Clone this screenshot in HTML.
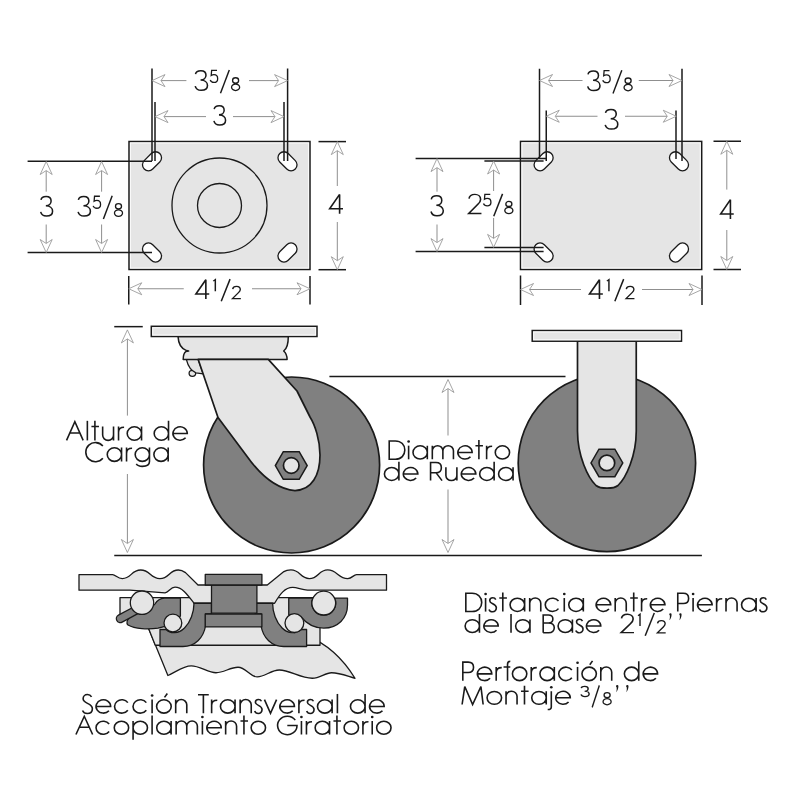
<!DOCTYPE html><html><head><meta charset="utf-8"><style>html,body{margin:0;padding:0;background:#fff;}svg{display:block;}text{font-family:"Liberation Sans",sans-serif;fill:#222;}</style></head><body>
<div style="will-change:transform;width:800px;height:800px"><svg width="800" height="800" viewBox="0 0 800 800">
<rect x="129" y="141.5" width="181" height="128" fill="#e5e5e5" stroke="#1a1a1a" stroke-width="1.5"/>
<rect x="130.45" y="142.95" width="178.1" height="125.1" fill="none" stroke="#fafafa" stroke-width="1"/>
<circle cx="219.5" cy="205.5" r="47.5" fill="none" stroke="#1a1a1a" stroke-width="1.3"/>
<circle cx="219.5" cy="205.5" r="22" fill="none" stroke="#1a1a1a" stroke-width="1.3"/>
<rect x="-11" y="-6" width="22" height="12" rx="6" transform="translate(152,161.3) rotate(-45)" fill="#fff" stroke="#1a1a1a" stroke-width="1.3"/>
<rect x="-11" y="-6" width="22" height="12" rx="6" transform="translate(287.5,161.3) rotate(45)" fill="#fff" stroke="#1a1a1a" stroke-width="1.3"/>
<rect x="-11" y="-6" width="22" height="12" rx="6" transform="translate(152,252.5) rotate(45)" fill="#fff" stroke="#1a1a1a" stroke-width="1.3"/>
<rect x="-11" y="-6" width="22" height="12" rx="6" transform="translate(287.5,252.5) rotate(-45)" fill="#fff" stroke="#1a1a1a" stroke-width="1.3"/>
<line x1="152" y1="68.5" x2="152" y2="161" stroke="#1a1a1a" stroke-width="1.5"/>
<line x1="155" y1="102" x2="155" y2="161" stroke="#1a1a1a" stroke-width="1.5"/>
<line x1="287.6" y1="68.5" x2="287.6" y2="161" stroke="#1a1a1a" stroke-width="1.5"/>
<line x1="284" y1="102" x2="284" y2="161" stroke="#1a1a1a" stroke-width="1.5"/>
<line x1="27.6" y1="161.2" x2="152" y2="161.2" stroke="#1a1a1a" stroke-width="1.5"/>
<line x1="27.6" y1="252.5" x2="152" y2="252.5" stroke="#1a1a1a" stroke-width="1.5"/>
<line x1="161" y1="80.6" x2="186.4" y2="80.6" stroke="#8f8f8f" stroke-width="1"/>
<line x1="249" y1="80.6" x2="278.6" y2="80.6" stroke="#8f8f8f" stroke-width="1"/>
<path d="M0,0 L-6,13 L0,9 L6,13 Z" transform="translate(152,80.6) rotate(270)" fill="#fff" stroke="#8f8f8f" stroke-width="0.8" stroke-linejoin="miter"/>
<path d="M0,0 L-6,13 L0,9 L6,13 Z" transform="translate(287.6,80.6) rotate(90)" fill="#fff" stroke="#8f8f8f" stroke-width="0.8" stroke-linejoin="miter"/>
<line x1="164" y1="116.6" x2="206" y2="116.6" stroke="#8f8f8f" stroke-width="1"/>
<line x1="233" y1="116.6" x2="275" y2="116.6" stroke="#8f8f8f" stroke-width="1"/>
<path d="M0,0 L-6,13 L0,9 L6,13 Z" transform="translate(155,116.6) rotate(270)" fill="#fff" stroke="#8f8f8f" stroke-width="0.8" stroke-linejoin="miter"/>
<path d="M0,0 L-6,13 L0,9 L6,13 Z" transform="translate(284,116.6) rotate(90)" fill="#fff" stroke="#8f8f8f" stroke-width="0.8" stroke-linejoin="miter"/>
<line x1="46.2" y1="170.5" x2="46.2" y2="191.7" stroke="#8f8f8f" stroke-width="1"/>
<line x1="46.2" y1="224.5" x2="46.2" y2="243.5" stroke="#8f8f8f" stroke-width="1"/>
<path d="M0,0 L-6,13 L0,9 L6,13 Z" transform="translate(46.2,161.5) rotate(0)" fill="#fff" stroke="#8f8f8f" stroke-width="0.8" stroke-linejoin="miter"/>
<path d="M0,0 L-6,13 L0,9 L6,13 Z" transform="translate(46.2,252.5) rotate(180)" fill="#fff" stroke="#8f8f8f" stroke-width="0.8" stroke-linejoin="miter"/>
<line x1="101.6" y1="170.5" x2="101.6" y2="191.7" stroke="#8f8f8f" stroke-width="1"/>
<line x1="101.6" y1="224.5" x2="101.6" y2="243.5" stroke="#8f8f8f" stroke-width="1"/>
<path d="M0,0 L-6,13 L0,9 L6,13 Z" transform="translate(101.6,161.5) rotate(0)" fill="#fff" stroke="#8f8f8f" stroke-width="0.8" stroke-linejoin="miter"/>
<path d="M0,0 L-6,13 L0,9 L6,13 Z" transform="translate(101.6,252.5) rotate(180)" fill="#fff" stroke="#8f8f8f" stroke-width="0.8" stroke-linejoin="miter"/>
<line x1="318.5" y1="141.6" x2="346" y2="141.6" stroke="#1a1a1a" stroke-width="1.5"/>
<line x1="318.5" y1="269.7" x2="346" y2="269.7" stroke="#1a1a1a" stroke-width="1.5"/>
<line x1="337.3" y1="150.6" x2="337.3" y2="186" stroke="#8f8f8f" stroke-width="1"/>
<line x1="337.3" y1="222" x2="337.3" y2="260.7" stroke="#8f8f8f" stroke-width="1"/>
<path d="M0,0 L-6,13 L0,9 L6,13 Z" transform="translate(337.3,141.6) rotate(0)" fill="#fff" stroke="#8f8f8f" stroke-width="0.8" stroke-linejoin="miter"/>
<path d="M0,0 L-6,13 L0,9 L6,13 Z" transform="translate(337.3,269.7) rotate(180)" fill="#fff" stroke="#8f8f8f" stroke-width="0.8" stroke-linejoin="miter"/>
<line x1="128.75" y1="276" x2="128.75" y2="304.5" stroke="#1a1a1a" stroke-width="1.5"/>
<line x1="310" y1="276" x2="310" y2="304.5" stroke="#1a1a1a" stroke-width="1.5"/>
<line x1="137.75" y1="288.75" x2="183.75" y2="288.75" stroke="#8f8f8f" stroke-width="1"/>
<line x1="252" y1="288.75" x2="301" y2="288.75" stroke="#8f8f8f" stroke-width="1"/>
<path d="M0,0 L-6,13 L0,9 L6,13 Z" transform="translate(128.75,288.75) rotate(270)" fill="#fff" stroke="#8f8f8f" stroke-width="0.8" stroke-linejoin="miter"/>
<path d="M0,0 L-6,13 L0,9 L6,13 Z" transform="translate(310,288.75) rotate(90)" fill="#fff" stroke="#8f8f8f" stroke-width="0.8" stroke-linejoin="miter"/>
<rect x="520.5" y="141.4" width="181.2" height="128.1" fill="#e5e5e5" stroke="#1a1a1a" stroke-width="1.5"/>
<rect x="521.95" y="142.85" width="178.29999999999998" height="125.19999999999999" fill="none" stroke="#fafafa" stroke-width="1"/>
<rect x="-11" y="-6" width="22" height="12" rx="6" transform="translate(543.6,161.3) rotate(-45)" fill="#fff" stroke="#1a1a1a" stroke-width="1.3"/>
<rect x="-11" y="-6" width="22" height="12" rx="6" transform="translate(679,161.3) rotate(45)" fill="#fff" stroke="#1a1a1a" stroke-width="1.3"/>
<rect x="-11" y="-6" width="22" height="12" rx="6" transform="translate(543.6,252.5) rotate(45)" fill="#fff" stroke="#1a1a1a" stroke-width="1.3"/>
<rect x="-11" y="-6" width="22" height="12" rx="6" transform="translate(679,252.5) rotate(-45)" fill="#fff" stroke="#1a1a1a" stroke-width="1.3"/>
<line x1="539.5" y1="68.75" x2="539.5" y2="159" stroke="#1a1a1a" stroke-width="1.5"/>
<line x1="546.25" y1="110.5" x2="546.25" y2="161" stroke="#1a1a1a" stroke-width="1.5"/>
<line x1="682" y1="68.75" x2="682" y2="161" stroke="#1a1a1a" stroke-width="1.5"/>
<line x1="676" y1="110.5" x2="676" y2="159" stroke="#1a1a1a" stroke-width="1.5"/>
<line x1="415.6" y1="158.6" x2="546" y2="158.6" stroke="#1a1a1a" stroke-width="1.5"/>
<line x1="415.6" y1="251.6" x2="543.6" y2="251.6" stroke="#1a1a1a" stroke-width="1.5"/>
<line x1="484.4" y1="161" x2="543.6" y2="161" stroke="#1a1a1a" stroke-width="1.5"/>
<line x1="484.4" y1="247.4" x2="543.6" y2="247.4" stroke="#1a1a1a" stroke-width="1.5"/>
<line x1="548.5" y1="80.5" x2="582.5" y2="80.5" stroke="#8f8f8f" stroke-width="1"/>
<line x1="638.75" y1="80.5" x2="673" y2="80.5" stroke="#8f8f8f" stroke-width="1"/>
<path d="M0,0 L-6,13 L0,9 L6,13 Z" transform="translate(539.5,80.5) rotate(270)" fill="#fff" stroke="#8f8f8f" stroke-width="0.8" stroke-linejoin="miter"/>
<path d="M0,0 L-6,13 L0,9 L6,13 Z" transform="translate(682,80.5) rotate(90)" fill="#fff" stroke="#8f8f8f" stroke-width="0.8" stroke-linejoin="miter"/>
<line x1="555.25" y1="116.25" x2="597.5" y2="116.25" stroke="#8f8f8f" stroke-width="1"/>
<line x1="625" y1="116.25" x2="667.25" y2="116.25" stroke="#8f8f8f" stroke-width="1"/>
<path d="M0,0 L-6,13 L0,9 L6,13 Z" transform="translate(546.25,116.25) rotate(270)" fill="#fff" stroke="#8f8f8f" stroke-width="0.8" stroke-linejoin="miter"/>
<path d="M0,0 L-6,13 L0,9 L6,13 Z" transform="translate(676.25,116.25) rotate(90)" fill="#fff" stroke="#8f8f8f" stroke-width="0.8" stroke-linejoin="miter"/>
<line x1="437" y1="167.6" x2="437" y2="191.7" stroke="#8f8f8f" stroke-width="1"/>
<line x1="437" y1="224.5" x2="437" y2="242.6" stroke="#8f8f8f" stroke-width="1"/>
<path d="M0,0 L-6,13 L0,9 L6,13 Z" transform="translate(437,158.6) rotate(0)" fill="#fff" stroke="#8f8f8f" stroke-width="0.8" stroke-linejoin="miter"/>
<path d="M0,0 L-6,13 L0,9 L6,13 Z" transform="translate(437,251.6) rotate(180)" fill="#fff" stroke="#8f8f8f" stroke-width="0.8" stroke-linejoin="miter"/>
<line x1="493.6" y1="170" x2="493.6" y2="191" stroke="#8f8f8f" stroke-width="1"/>
<line x1="493.6" y1="218" x2="493.6" y2="238.4" stroke="#8f8f8f" stroke-width="1"/>
<path d="M0,0 L-6,13 L0,9 L6,13 Z" transform="translate(493.6,161) rotate(0)" fill="#fff" stroke="#8f8f8f" stroke-width="0.8" stroke-linejoin="miter"/>
<path d="M0,0 L-6,13 L0,9 L6,13 Z" transform="translate(493.6,247.4) rotate(180)" fill="#fff" stroke="#8f8f8f" stroke-width="0.8" stroke-linejoin="miter"/>
<line x1="713.5" y1="141.25" x2="741" y2="141.25" stroke="#1a1a1a" stroke-width="1.5"/>
<line x1="713.5" y1="269.5" x2="741" y2="269.5" stroke="#1a1a1a" stroke-width="1.5"/>
<line x1="726.8" y1="150.25" x2="726.8" y2="189.6" stroke="#8f8f8f" stroke-width="1"/>
<line x1="726.8" y1="230" x2="726.8" y2="260.5" stroke="#8f8f8f" stroke-width="1"/>
<path d="M0,0 L-6,13 L0,9 L6,13 Z" transform="translate(726.8,141.25) rotate(0)" fill="#fff" stroke="#8f8f8f" stroke-width="0.8" stroke-linejoin="miter"/>
<path d="M0,0 L-6,13 L0,9 L6,13 Z" transform="translate(726.8,269.5) rotate(180)" fill="#fff" stroke="#8f8f8f" stroke-width="0.8" stroke-linejoin="miter"/>
<line x1="520.5" y1="275.5" x2="520.5" y2="305" stroke="#1a1a1a" stroke-width="1.5"/>
<line x1="702" y1="275.5" x2="702" y2="305" stroke="#1a1a1a" stroke-width="1.5"/>
<line x1="529.5" y1="289.5" x2="581" y2="289.5" stroke="#8f8f8f" stroke-width="1"/>
<line x1="642" y1="289.5" x2="693" y2="289.5" stroke="#8f8f8f" stroke-width="1"/>
<path d="M0,0 L-6,13 L0,9 L6,13 Z" transform="translate(520.5,289.5) rotate(270)" fill="#fff" stroke="#8f8f8f" stroke-width="0.8" stroke-linejoin="miter"/>
<path d="M0,0 L-6,13 L0,9 L6,13 Z" transform="translate(702,289.5) rotate(90)" fill="#fff" stroke="#8f8f8f" stroke-width="0.8" stroke-linejoin="miter"/>
<path d="M1.0,-16.9 C1.4,-19.2 3.6,-20.3 6.3,-20.3 C9.6,-20.3 11.4,-18.2 11.4,-15.7 C11.4,-13 9.1,-11 6.0,-11 C9.9,-11 12.9,-8.8 12.9,-5.6 C12.9,-2.2 10.2,-0.7 6.6,-0.7 C3.6,-0.7 1.3,-2.4 0.7,-4.9" transform="translate(194.50,91.00) scale(1.0074,1.0000)" fill="none" stroke="#1a1a1a" stroke-width="1.544" stroke-miterlimit="3"/>
<path d="M11.8,-20.3 H3.0 L2.3,-12.0 C3.8,-13 5.4,-13.4 6.8,-13.4 C10.5,-13.4 12.9,-10.6 12.9,-6.9 C12.9,-3.1 10.3,-0.7 6.7,-0.7 C3.9,-0.7 1.6,-2.2 0.7,-4.6" transform="translate(209.80,82.90) scale(0.6103,0.6143)" fill="none" stroke="#1a1a1a" stroke-width="2.123" stroke-miterlimit="3"/>
<path d="M0.7,0 L9.6,-21" transform="translate(219.80,93.20) scale(0.9903,1.1048)" fill="none" stroke="#1a1a1a" stroke-width="1.480" stroke-miterlimit="3"/>
<path d="M0.700,-5.700 A6.150,5.000 0 1 0 13.000,-5.700 A6.150,5.000 0 1 0 0.700,-5.700 M2.250,-16.200 A4.600,4.100 0 1 0 11.450,-16.200 A4.600,4.100 0 1 0 2.250,-16.200" transform="translate(231.10,91.00) scale(0.6569,0.6524)" fill="none" stroke="#1a1a1a" stroke-width="1.986" stroke-miterlimit="3"/>
<path d="M1.0,-16.9 C1.4,-19.2 3.6,-20.3 6.3,-20.3 C9.6,-20.3 11.4,-18.2 11.4,-15.7 C11.4,-13 9.1,-11 6.0,-11 C9.9,-11 12.9,-8.8 12.9,-5.6 C12.9,-2.2 10.2,-0.7 6.6,-0.7 C3.6,-0.7 1.3,-2.4 0.7,-4.9" transform="translate(213.25,125.75) scale(0.9559,0.9881)" fill="none" stroke="#1a1a1a" stroke-width="1.595" stroke-miterlimit="3"/>
<path d="M1.0,-16.9 C1.4,-19.2 3.6,-20.3 6.3,-20.3 C9.6,-20.3 11.4,-18.2 11.4,-15.7 C11.4,-13 9.1,-11 6.0,-11 C9.9,-11 12.9,-8.8 12.9,-5.6 C12.9,-2.2 10.2,-0.7 6.6,-0.7 C3.6,-0.7 1.3,-2.4 0.7,-4.9" transform="translate(40.00,216.75) scale(0.9743,1.0000)" fill="none" stroke="#1a1a1a" stroke-width="1.570" stroke-miterlimit="3"/>
<path d="M1.0,-16.9 C1.4,-19.2 3.6,-20.3 6.3,-20.3 C9.6,-20.3 11.4,-18.2 11.4,-15.7 C11.4,-13 9.1,-11 6.0,-11 C9.9,-11 12.9,-8.8 12.9,-5.6 C12.9,-2.2 10.2,-0.7 6.6,-0.7 C3.6,-0.7 1.3,-2.4 0.7,-4.9" transform="translate(77.40,216.80) scale(1.0074,1.0000)" fill="none" stroke="#1a1a1a" stroke-width="1.544" stroke-miterlimit="3"/>
<path d="M11.8,-20.3 H3.0 L2.3,-12.0 C3.8,-13 5.4,-13.4 6.8,-13.4 C10.5,-13.4 12.9,-10.6 12.9,-6.9 C12.9,-3.1 10.3,-0.7 6.7,-0.7 C3.9,-0.7 1.6,-2.2 0.7,-4.6" transform="translate(92.70,208.70) scale(0.6103,0.6143)" fill="none" stroke="#1a1a1a" stroke-width="2.123" stroke-miterlimit="3"/>
<path d="M0.7,0 L9.6,-21" transform="translate(102.70,219.00) scale(0.9903,1.1048)" fill="none" stroke="#1a1a1a" stroke-width="1.480" stroke-miterlimit="3"/>
<path d="M0.700,-5.700 A6.150,5.000 0 1 0 13.000,-5.700 A6.150,5.000 0 1 0 0.700,-5.700 M2.250,-16.200 A4.600,4.100 0 1 0 11.450,-16.200 A4.600,4.100 0 1 0 2.250,-16.200" transform="translate(114.00,216.80) scale(0.6569,0.6524)" fill="none" stroke="#1a1a1a" stroke-width="1.986" stroke-miterlimit="3"/>
<path d="M13.6,-5.2 H0.6 L10.3,-20.3 V0" transform="translate(329.00,213.75) scale(1.0294,0.9524)" fill="none" stroke="#1a1a1a" stroke-width="1.564" stroke-miterlimit="3"/>
<path d="M13.6,-5.2 H0.6 L10.3,-20.3 V0" transform="translate(195.25,299.00) scale(1.0294,0.9476)" fill="none" stroke="#1a1a1a" stroke-width="1.568" stroke-miterlimit="3"/>
<path d="M0.6,-17.6 L3.3,-20.3 V0" transform="translate(212.85,291.32) scale(0.7500,0.5821)" fill="none" stroke="#1a1a1a" stroke-width="1.952" stroke-miterlimit="3"/>
<path d="M0.7,0 L9.6,-21" transform="translate(220.55,301.20) scale(0.9903,1.0524)" fill="none" stroke="#1a1a1a" stroke-width="1.518" stroke-miterlimit="3"/>
<path d="M1.2,-16.0 C1.6,-18.9 4.0,-20.5 6.8,-20.5 C9.9,-20.5 12.2,-18.3 12.2,-15.3 C12.2,-13.2 11.0,-11.7 9.6,-10.2 L0.9,-0.7 H13.0" transform="translate(231.85,299.00) scale(0.6923,0.6182)" fill="none" stroke="#1a1a1a" stroke-width="1.984" stroke-miterlimit="3"/>
<path d="M1.0,-16.9 C1.4,-19.2 3.6,-20.3 6.3,-20.3 C9.6,-20.3 11.4,-18.2 11.4,-15.7 C11.4,-13 9.1,-11 6.0,-11 C9.9,-11 12.9,-8.8 12.9,-5.6 C12.9,-2.2 10.2,-0.7 6.6,-0.7 C3.6,-0.7 1.3,-2.4 0.7,-4.9" transform="translate(587.00,91.25) scale(1.0074,1.0000)" fill="none" stroke="#1a1a1a" stroke-width="1.544" stroke-miterlimit="3"/>
<path d="M11.8,-20.3 H3.0 L2.3,-12.0 C3.8,-13 5.4,-13.4 6.8,-13.4 C10.5,-13.4 12.9,-10.6 12.9,-6.9 C12.9,-3.1 10.3,-0.7 6.7,-0.7 C3.9,-0.7 1.6,-2.2 0.7,-4.6" transform="translate(602.30,83.15) scale(0.6103,0.6143)" fill="none" stroke="#1a1a1a" stroke-width="2.123" stroke-miterlimit="3"/>
<path d="M0.7,0 L9.6,-21" transform="translate(612.30,93.45) scale(0.9903,1.1048)" fill="none" stroke="#1a1a1a" stroke-width="1.480" stroke-miterlimit="3"/>
<path d="M0.700,-5.700 A6.150,5.000 0 1 0 13.000,-5.700 A6.150,5.000 0 1 0 0.700,-5.700 M2.250,-16.200 A4.600,4.100 0 1 0 11.450,-16.200 A4.600,4.100 0 1 0 2.250,-16.200" transform="translate(623.60,91.25) scale(0.6569,0.6524)" fill="none" stroke="#1a1a1a" stroke-width="1.986" stroke-miterlimit="3"/>
<path d="M1.0,-16.9 C1.4,-19.2 3.6,-20.3 6.3,-20.3 C9.6,-20.3 11.4,-18.2 11.4,-15.7 C11.4,-13 9.1,-11 6.0,-11 C9.9,-11 12.9,-8.8 12.9,-5.6 C12.9,-2.2 10.2,-0.7 6.6,-0.7 C3.6,-0.7 1.3,-2.4 0.7,-4.9" transform="translate(604.50,129.75) scale(1.0294,1.0000)" fill="none" stroke="#1a1a1a" stroke-width="1.528" stroke-miterlimit="3"/>
<path d="M1.0,-16.9 C1.4,-19.2 3.6,-20.3 6.3,-20.3 C9.6,-20.3 11.4,-18.2 11.4,-15.7 C11.4,-13 9.1,-11 6.0,-11 C9.9,-11 12.9,-8.8 12.9,-5.6 C12.9,-2.2 10.2,-0.7 6.6,-0.7 C3.6,-0.7 1.3,-2.4 0.7,-4.9" transform="translate(430.30,216.50) scale(1.0074,1.0190)" fill="none" stroke="#1a1a1a" stroke-width="1.530" stroke-miterlimit="3"/>
<path d="M1.2,-16.0 C1.6,-18.9 4.0,-20.5 6.8,-20.5 C9.9,-20.5 12.2,-18.3 12.2,-15.3 C12.2,-13.2 11.0,-11.7 9.6,-10.2 L0.9,-0.7 H13.0" transform="translate(467.75,214.10) scale(1.0538,0.9619)" fill="none" stroke="#1a1a1a" stroke-width="1.538" stroke-miterlimit="3"/>
<path d="M11.8,-20.3 H3.0 L2.3,-12.0 C3.8,-13 5.4,-13.4 6.8,-13.4 C10.5,-13.4 12.9,-10.6 12.9,-6.9 C12.9,-3.1 10.3,-0.7 6.7,-0.7 C3.9,-0.7 1.6,-2.2 0.7,-4.6" transform="translate(483.05,206.31) scale(0.6103,0.5909)" fill="none" stroke="#1a1a1a" stroke-width="2.165" stroke-miterlimit="3"/>
<path d="M0.7,0 L9.6,-21" transform="translate(493.05,216.30) scale(0.9903,1.0667)" fill="none" stroke="#1a1a1a" stroke-width="1.507" stroke-miterlimit="3"/>
<path d="M0.700,-5.700 A6.150,5.000 0 1 0 13.000,-5.700 A6.150,5.000 0 1 0 0.700,-5.700 M2.250,-16.200 A4.600,4.100 0 1 0 11.450,-16.200 A4.600,4.100 0 1 0 2.250,-16.200" transform="translate(504.35,214.10) scale(0.6569,0.6275)" fill="none" stroke="#1a1a1a" stroke-width="2.024" stroke-miterlimit="3"/>
<path d="M13.6,-5.2 H0.6 L10.3,-20.3 V0" transform="translate(720.00,219.00) scale(1.0110,0.9524)" fill="none" stroke="#1a1a1a" stroke-width="1.579" stroke-miterlimit="3"/>
<path d="M13.6,-5.2 H0.6 L10.3,-20.3 V0" transform="translate(588.85,299.00) scale(1.0294,0.9476)" fill="none" stroke="#1a1a1a" stroke-width="1.568" stroke-miterlimit="3"/>
<path d="M0.6,-17.6 L3.3,-20.3 V0" transform="translate(606.45,291.32) scale(0.7500,0.5821)" fill="none" stroke="#1a1a1a" stroke-width="1.952" stroke-miterlimit="3"/>
<path d="M0.7,0 L9.6,-21" transform="translate(614.15,301.20) scale(0.9903,1.0524)" fill="none" stroke="#1a1a1a" stroke-width="1.518" stroke-miterlimit="3"/>
<path d="M1.2,-16.0 C1.6,-18.9 4.0,-20.5 6.8,-20.5 C9.9,-20.5 12.2,-18.3 12.2,-15.3 C12.2,-13.2 11.0,-11.7 9.6,-10.2 L0.9,-0.7 H13.0" transform="translate(625.45,299.00) scale(0.6923,0.6182)" fill="none" stroke="#1a1a1a" stroke-width="1.984" stroke-miterlimit="3"/>
<line x1="114.25" y1="326.65" x2="142.75" y2="326.65" stroke="#1a1a1a" stroke-width="1.5"/>
<line x1="127.4" y1="338.9" x2="127.4" y2="415.6" stroke="#8f8f8f" stroke-width="1"/>
<line x1="127.4" y1="474" x2="127.4" y2="543.5" stroke="#8f8f8f" stroke-width="1"/>
<path d="M0,0 L-6,13 L0,9 L6,13 Z" transform="translate(127.4,329.9) rotate(0)" fill="#fff" stroke="#8f8f8f" stroke-width="0.8" stroke-linejoin="miter"/>
<path d="M0,0 L-6,13 L0,9 L6,13 Z" transform="translate(127.4,552.5) rotate(180)" fill="#fff" stroke="#8f8f8f" stroke-width="0.8" stroke-linejoin="miter"/>
<line x1="114.25" y1="555.4" x2="701.9" y2="555.4" stroke="#1a1a1a" stroke-width="1.5"/>
<line x1="329.4" y1="376.4" x2="565.5" y2="376.4" stroke="#1a1a1a" stroke-width="1.5"/>
<line x1="448" y1="388.5" x2="448" y2="435.5" stroke="#8f8f8f" stroke-width="1"/>
<line x1="448" y1="489.5" x2="448" y2="543.5" stroke="#8f8f8f" stroke-width="1"/>
<path d="M0,0 L-6,13 L0,9 L6,13 Z" transform="translate(448,379.5) rotate(0)" fill="#fff" stroke="#8f8f8f" stroke-width="0.8" stroke-linejoin="miter"/>
<path d="M0,0 L-6,13 L0,9 L6,13 Z" transform="translate(448,552.5) rotate(180)" fill="#fff" stroke="#8f8f8f" stroke-width="0.8" stroke-linejoin="miter"/>
<circle cx="291.6" cy="465" r="88" fill="#808080" stroke="#1a1a1a" stroke-width="1.7"/>
<path d="M178,336.4 C178.3,342 180.5,348.5 186.5,350.6 L188.6,351.1 L185.8,351.6 C183.8,353 183.2,356 183.2,359.4 L287.1,359.4 C287.1,356 287,354 283.7,351 C286.5,349 288.3,345 288.3,336.4 Z" fill="#e5e5e5" stroke="#1a1a1a" stroke-width="1.5" stroke-linejoin="round"/>
<ellipse cx="192.4" cy="373.3" rx="3.3" ry="3.0" fill="#e5e5e5" stroke="#1a1a1a" stroke-width="1.3"/>
<path d="M186.4,359.6 C188,366 191.5,371 196,372.8 L203.2,373.8 L198.2,359.6 Z" fill="#e5e5e5" stroke="#1a1a1a" stroke-width="1.3" stroke-linejoin="round"/>
<path d="M198.2,359.4 L218,417.5 L246,455 C258,472 275,489 295,490.6 C312,490 320,475 320,455 C320,440 315,425 310,417 L297,391 L268.3,359.4 Z" fill="#e5e5e5" stroke="#1a1a1a" stroke-width="1.7" stroke-linejoin="round"/>
<rect x="151.3" y="326.3" width="165.7" height="10.2" fill="#e5e5e5" stroke="#1a1a1a" stroke-width="1.5"/>
<rect x="152.75" y="327.75" width="162.79999999999998" height="7.299999999999999" fill="none" stroke="#fafafa" stroke-width="1"/>
<polygon points="307.15,465.50 299.20,479.27 283.30,479.27 275.35,465.50 283.30,451.73 299.20,451.73" fill="#808080" stroke="#1a1a1a" stroke-width="1.5"/>
<circle cx="291.25" cy="465.5" r="7.8" fill="#e5e5e5" stroke="#1a1a1a" stroke-width="1.7"/>
<circle cx="606.9" cy="462.9" r="88.7" fill="#808080" stroke="#1a1a1a" stroke-width="1.7"/>
<path d="M577.5,341.2 V431 C577.5,456 588,478 596,485.5 C598.5,487.5 602,488.2 607,488.2 C612,488.2 615.5,487.5 618,485.5 C626,478 636.25,456 636.25,431 V341.2 Z" fill="#e5e5e5" stroke="#1a1a1a" stroke-width="1.7" stroke-linejoin="round"/>
<rect x="532.2" y="330.5" width="149.3" height="10.7" fill="#e5e5e5" stroke="#1a1a1a" stroke-width="1.5"/>
<rect x="533.6500000000001" y="331.95" width="146.4" height="7.799999999999999" fill="none" stroke="#fafafa" stroke-width="1"/>
<polygon points="622.80,462.90 614.85,476.67 598.95,476.67 591.00,462.90 598.95,449.13 614.85,449.13" fill="#808080" stroke="#1a1a1a" stroke-width="1.5"/>
<circle cx="606.9" cy="462.9" r="7.8" fill="#e5e5e5" stroke="#1a1a1a" stroke-width="1.7"/>
<g transform="translate(65.65,440.40) scale(0.9899,0.9689)" fill="none" stroke="#1a1a1a" stroke-width="1.6" stroke-miterlimit="3"><path transform="translate(0.00,0)" d="M0.9,0 L9.3,-19.3 L17.7,0 M4.5,-7.7 H14.1"/><path transform="translate(19.20,0)" d="M2.725,0 V-20.200"/><path transform="translate(24.65,0)" d="M1.4,-14.300 H9.0 M4.9,-20.200 V0"/><path transform="translate(34.85,0)" d="M2.525,-14.300 V-5.500 A5.5,5.5 0 0 0 13.525,-5.500 M13.525,-14.300 V0"/><path transform="translate(50.90,0)" d="M2.525,0 V-14.300 M2.525,-8.3 C2.525,-12 4.925,-13.6 8.125,-13.6"/><path transform="translate(60.25,0)" d="M1.925,-7.150 A7.250,6.950 0 1 0 16.425,-7.150 A7.250,6.950 0 1 0 1.925,-7.150 M16.425,-14.300 V0"/><path transform="translate(87.50,0)" d="M1.925,-7.150 A7.250,6.950 0 1 0 16.425,-7.150 A7.250,6.950 0 1 0 1.925,-7.150 M16.425,-20.200 V0"/><path transform="translate(106.45,0)" d="M1.925,-7.150 H16.425 A7.250,6.950 0 1 0 14.729,-2.683"/></g>
<g transform="translate(83.92,461.60) scale(0.9869,0.9793)" fill="none" stroke="#1a1a1a" stroke-width="1.6" stroke-miterlimit="3"><path transform="translate(0.00,0)" d="M19.188,-15.933 A9.775,9.775 0 1 0 19.188,-3.367"/><path transform="translate(21.71,0)" d="M1.925,-7.150 A7.250,6.950 0 1 0 16.425,-7.150 A7.250,6.950 0 1 0 1.925,-7.150 M16.425,-14.300 V0"/><path transform="translate(40.66,0)" d="M2.525,0 V-14.300 M2.525,-8.3 C2.525,-12 4.925,-13.6 8.125,-13.6"/><path transform="translate(50.01,0)" d="M1.925,-7.150 A7.250,6.950 0 1 0 16.425,-7.150 A7.250,6.950 0 1 0 1.925,-7.150 M16.425,-14.300 V0 C16.425,3.4 13.825,4.9 9.175,4.9 C6.175,4.9 3.975,3.9 3.075,2.4"/><path transform="translate(68.96,0)" d="M1.925,-7.150 A7.250,6.950 0 1 0 16.425,-7.150 A7.250,6.950 0 1 0 1.925,-7.150 M16.425,-14.300 V0"/></g>
<g transform="translate(386.72,459.30) scale(0.9874,0.9534)" fill="none" stroke="#1a1a1a" stroke-width="1.6" stroke-miterlimit="3"><path transform="translate(0.00,0)" d="M2.525,-19.3 V0 H8.725 C14.725,0 18.325,-4.3 18.325,-9.650 C18.325,-15 14.725,-19.3 8.725,-19.3 Z"/><path transform="translate(19.65,0)" d="M2.525,0 V-14.300"/><circle cx="22.18" cy="-18.6" r="1.35" fill="#1a1a1a" stroke="none"/><path transform="translate(24.70,0)" d="M1.925,-7.150 A7.250,6.950 0 1 0 16.425,-7.150 A7.250,6.950 0 1 0 1.925,-7.150 M16.425,-14.300 V0"/><path transform="translate(43.65,0)" d="M2.525,0 V-14.300 M2.525,-8.950 A5.35,5.35 0 0 1 13.225,-8.950 V0 M13.225,-8.950 A5.35,5.35 0 0 1 23.925,-8.950 V0"/><path transform="translate(70.10,0)" d="M1.925,-7.150 H16.425 A7.250,6.950 0 1 0 14.729,-2.683"/><path transform="translate(88.45,0)" d="M1.4,-14.300 H9.0 M4.9,-20.200 V0"/><path transform="translate(98.65,0)" d="M2.525,0 V-14.300 M2.525,-8.3 C2.525,-12 4.925,-13.6 8.125,-13.6"/><path transform="translate(108.00,0)" d="M1.925,-7.150 A7.250,6.950 0 1 0 16.425,-7.150 A7.250,6.950 0 1 0 1.925,-7.150"/></g>
<g transform="translate(382.50,480.60) scale(0.9988,0.9326)" fill="none" stroke="#1a1a1a" stroke-width="1.6" stroke-miterlimit="3"><path transform="translate(0.00,0)" d="M1.925,-7.150 A7.250,6.950 0 1 0 16.425,-7.150 A7.250,6.950 0 1 0 1.925,-7.150 M16.425,-20.200 V0"/><path transform="translate(18.95,0)" d="M1.925,-7.150 H16.425 A7.250,6.950 0 1 0 14.729,-2.683"/><path transform="translate(45.60,0)" d="M2.525,0 V-19.3 H7.925 C11.525,-19.3 13.325,-16.8 13.325,-13.9 C13.325,-11 11.525,-8.5 7.925,-8.5 H2.525 M7.925,-8.5 L14.025,0"/><path transform="translate(60.95,0)" d="M2.525,-14.300 V-5.500 A5.5,5.5 0 0 0 13.525,-5.500 M13.525,-14.300 V0"/><path transform="translate(77.00,0)" d="M1.925,-7.150 H16.425 A7.250,6.950 0 1 0 14.729,-2.683"/><path transform="translate(95.35,0)" d="M1.925,-7.150 A7.250,6.950 0 1 0 16.425,-7.150 A7.250,6.950 0 1 0 1.925,-7.150 M16.425,-20.200 V0"/><path transform="translate(114.30,0)" d="M1.925,-7.150 A7.250,6.950 0 1 0 16.425,-7.150 A7.250,6.950 0 1 0 1.925,-7.150 M16.425,-14.300 V0"/></g>
<g transform="translate(463.29,611.60) scale(1.0052,0.9482)" fill="none" stroke="#1a1a1a" stroke-width="1.6" stroke-miterlimit="3"><path transform="translate(0.00,0)" d="M2.525,-19.3 V0 H8.725 C14.725,0 18.325,-4.3 18.325,-9.650 C18.325,-15 14.725,-19.3 8.725,-19.3 Z"/><path transform="translate(19.65,0)" d="M2.525,0 V-14.300"/><circle cx="22.18" cy="-18.6" r="1.35" fill="#1a1a1a" stroke="none"/><path transform="translate(24.70,0)" d="M7.6,-12.6 C7.0,-13.9 6.0,-14.5 4.7,-14.5 C2.8,-14.5 1.6,-13.3 1.6,-11.5 C1.6,-7.8 8.2,-8.8 8.2,-4.0 C8.2,-1.4 6.5,0.2 4.5,0.2 C2.8,0.2 1.4,-0.8 0.9,-2.3"/><path transform="translate(34.40,0)" d="M1.4,-14.300 H9.0 M4.9,-20.200 V0"/><path transform="translate(44.60,0)" d="M1.925,-7.150 A7.250,6.950 0 1 0 16.425,-7.150 A7.250,6.950 0 1 0 1.925,-7.150 M16.425,-14.300 V0"/><path transform="translate(63.55,0)" d="M2.525,0 V-14.300 M2.525,-8.800 A5.5,5.5 0 0 1 13.525,-8.800 V0"/><path transform="translate(79.60,0)" d="M15.114,-11.136 A7.250,6.950 0 1 0 15.114,-3.164"/><path transform="translate(97.94,0)" d="M2.525,0 V-14.300"/><circle cx="100.46" cy="-18.6" r="1.35" fill="#1a1a1a" stroke="none"/><path transform="translate(102.99,0)" d="M1.925,-7.150 A7.250,6.950 0 1 0 16.425,-7.150 A7.250,6.950 0 1 0 1.925,-7.150 M16.425,-14.300 V0"/><path transform="translate(130.24,0)" d="M1.925,-7.150 H16.425 A7.250,6.950 0 1 0 14.729,-2.683"/><path transform="translate(148.59,0)" d="M2.525,0 V-14.300 M2.525,-8.800 A5.5,5.5 0 0 1 13.525,-8.800 V0"/><path transform="translate(164.64,0)" d="M1.4,-14.300 H9.0 M4.9,-20.200 V0"/><path transform="translate(174.84,0)" d="M2.525,0 V-14.300 M2.525,-8.3 C2.525,-12 4.925,-13.6 8.125,-13.6"/><path transform="translate(184.19,0)" d="M1.925,-7.150 H16.425 A7.250,6.950 0 1 0 14.729,-2.683"/><path transform="translate(210.84,0)" d="M2.525,0 V-19.3 H7.925 C11.525,-19.3 13.325,-16.8 13.325,-13.9 C13.325,-11 11.525,-8.5 7.925,-8.5 H2.525"/><path transform="translate(226.09,0)" d="M2.525,0 V-14.300"/><circle cx="228.61" cy="-18.6" r="1.35" fill="#1a1a1a" stroke="none"/><path transform="translate(231.14,0)" d="M1.925,-7.150 H16.425 A7.250,6.950 0 1 0 14.729,-2.683"/><path transform="translate(249.49,0)" d="M2.525,0 V-14.300 M2.525,-8.3 C2.525,-12 4.925,-13.6 8.125,-13.6"/><path transform="translate(258.84,0)" d="M2.525,0 V-14.300 M2.525,-8.800 A5.5,5.5 0 0 1 13.525,-8.800 V0"/><path transform="translate(274.89,0)" d="M1.925,-7.150 A7.250,6.950 0 1 0 16.425,-7.150 A7.250,6.950 0 1 0 1.925,-7.150 M16.425,-14.300 V0"/><path transform="translate(293.84,0)" d="M7.6,-12.6 C7.0,-13.9 6.0,-14.5 4.7,-14.5 C2.8,-14.5 1.6,-13.3 1.6,-11.5 C1.6,-7.8 8.2,-8.8 8.2,-4.0 C8.2,-1.4 6.5,0.2 4.5,0.2 C2.8,0.2 1.4,-0.8 0.9,-2.3"/></g>
<g transform="translate(463.21,632.70) scale(0.9895,0.9223)" fill="none" stroke="#1a1a1a" stroke-width="1.6" stroke-miterlimit="3"><path transform="translate(0.00,0)" d="M1.925,-7.150 A7.250,6.950 0 1 0 16.425,-7.150 A7.250,6.950 0 1 0 1.925,-7.150 M16.425,-20.200 V0"/><path transform="translate(18.95,0)" d="M1.925,-7.150 H16.425 A7.250,6.950 0 1 0 14.729,-2.683"/><path transform="translate(45.60,0)" d="M2.725,0 V-20.200"/><path transform="translate(51.05,0)" d="M1.925,-7.150 A7.250,6.950 0 1 0 16.425,-7.150 A7.250,6.950 0 1 0 1.925,-7.150 M16.425,-14.300 V0"/><path transform="translate(78.30,0)" d="M2.525,0 V-19.3 H7.725 C10.825,-19.3 12.325,-17.100 12.325,-14.9 C12.325,-12.2 10.525,-10.6 7.725,-10.6 H2.525 M7.725,-10.6 C11.825,-10.6 13.725,-8.3 13.725,-5.3 C13.725,-2.1 11.525,0 8.125,0 H2.525"/><path transform="translate(93.95,0)" d="M1.925,-7.150 A7.250,6.950 0 1 0 16.425,-7.150 A7.250,6.950 0 1 0 1.925,-7.150 M16.425,-14.300 V0"/><path transform="translate(112.90,0)" d="M7.6,-12.6 C7.0,-13.9 6.0,-14.5 4.7,-14.5 C2.8,-14.5 1.6,-13.3 1.6,-11.5 C1.6,-7.8 8.2,-8.8 8.2,-4.0 C8.2,-1.4 6.5,0.2 4.5,0.2 C2.8,0.2 1.4,-0.8 0.9,-2.3"/><path transform="translate(122.60,0)" d="M1.925,-7.150 H16.425 A7.250,6.950 0 1 0 14.729,-2.683"/></g>
<path d="M1.2,-16.0 C1.6,-18.9 4.0,-20.5 6.8,-20.5 C9.9,-20.5 12.2,-18.3 12.2,-15.3 C12.2,-13.2 11.0,-11.7 9.6,-10.2 L0.9,-0.7 H13.0" transform="translate(620.20,633.30) scale(1.0615,0.9286)" fill="none" stroke="#1a1a1a" stroke-width="1.558" stroke-miterlimit="3"/>
<path d="M0.6,-17.6 L3.3,-20.3 V0" transform="translate(637.70,626.00) scale(0.7000,0.5810)" fill="none" stroke="#1a1a1a" stroke-width="2.030" stroke-miterlimit="3"/>
<path d="M0.7,0 L9.6,-21" transform="translate(644.50,635.80) scale(1.0194,1.0857)" fill="none" stroke="#1a1a1a" stroke-width="1.473" stroke-miterlimit="3"/>
<path d="M1.2,-16.0 C1.6,-18.9 4.0,-20.5 6.8,-20.5 C9.9,-20.5 12.2,-18.3 12.2,-15.3 C12.2,-13.2 11.0,-11.7 9.6,-10.2 L0.9,-0.7 H13.0" transform="translate(656.70,633.30) scale(0.6923,0.6190)" fill="none" stroke="#1a1a1a" stroke-width="1.983" stroke-miterlimit="3"/>
<path transform="translate(670.4,614.3)" d="M-1.2,0 A1.2,1.2 0 1 1 1.2,0.1 C1.15,2.4 0.3,4.6 -1.0,6.0 C-0.55,4.5 -0.35,3.0 -0.6,1.0 A1.2,1.2 0 0 1 -1.2,0 Z" fill="#1a1a1a"/>
<path transform="translate(680.4,614.3)" d="M-1.2,0 A1.2,1.2 0 1 1 1.2,0.1 C1.15,2.4 0.3,4.6 -1.0,6.0 C-0.55,4.5 -0.35,3.0 -0.6,1.0 A1.2,1.2 0 0 1 -1.2,0 Z" fill="#1a1a1a"/>
<g transform="translate(460.31,680.80) scale(0.9930,0.9689)" fill="none" stroke="#1a1a1a" stroke-width="1.6" stroke-miterlimit="3"><path transform="translate(0.00,0)" d="M2.525,0 V-19.3 H7.925 C11.525,-19.3 13.325,-16.8 13.325,-13.9 C13.325,-11 11.525,-8.5 7.925,-8.5 H2.525"/><path transform="translate(15.25,0)" d="M1.925,-7.150 H16.425 A7.250,6.950 0 1 0 14.729,-2.683"/><path transform="translate(33.60,0)" d="M2.525,0 V-14.300 M2.525,-8.3 C2.525,-12 4.925,-13.6 8.125,-13.6"/><path transform="translate(42.95,0)" d="M0.6,-14.300 H7.4 M4.6,0 V-16.8 C4.6,-19.3 5.4,-20.2 7.4,-20.2"/><path transform="translate(50.55,0)" d="M1.925,-7.150 A7.250,6.950 0 1 0 16.425,-7.150 A7.250,6.950 0 1 0 1.925,-7.150"/><path transform="translate(68.90,0)" d="M2.525,0 V-14.300 M2.525,-8.3 C2.525,-12 4.925,-13.6 8.125,-13.6"/><path transform="translate(78.25,0)" d="M1.925,-7.150 A7.250,6.950 0 1 0 16.425,-7.150 A7.250,6.950 0 1 0 1.925,-7.150 M16.425,-14.300 V0"/><path transform="translate(97.20,0)" d="M15.114,-11.136 A7.250,6.950 0 1 0 15.114,-3.164"/><path transform="translate(115.54,0)" d="M2.525,0 V-14.300"/><circle cx="118.06" cy="-18.6" r="1.35" fill="#1a1a1a" stroke="none"/><path transform="translate(120.59,0)" d="M1.925,-7.150 A7.250,6.950 0 1 0 16.425,-7.150 A7.250,6.950 0 1 0 1.925,-7.150 M9.78,-16.6 L12.58,-20.6"/><path transform="translate(138.94,0)" d="M2.525,0 V-14.300 M2.525,-8.800 A5.5,5.5 0 0 1 13.525,-8.800 V0"/><path transform="translate(163.29,0)" d="M1.925,-7.150 A7.250,6.950 0 1 0 16.425,-7.150 A7.250,6.950 0 1 0 1.925,-7.150 M16.425,-20.200 V0"/><path transform="translate(182.24,0)" d="M1.925,-7.150 H16.425 A7.250,6.950 0 1 0 14.729,-2.683"/></g>
<g transform="translate(461.00,704.50) scale(1.0014,0.9301)" fill="none" stroke="#1a1a1a" stroke-width="1.6" stroke-miterlimit="3"><path transform="translate(0.00,0)" d="M1.1,0 L3.75,-19.3 L11.6,0 L19.9,-19.3 L22.1,0"/><path transform="translate(24.10,0)" d="M1.925,-7.150 A7.250,6.950 0 1 0 16.425,-7.150 A7.250,6.950 0 1 0 1.925,-7.150"/><path transform="translate(42.45,0)" d="M2.525,0 V-14.300 M2.525,-8.800 A5.5,5.5 0 0 1 13.525,-8.800 V0"/><path transform="translate(58.50,0)" d="M1.4,-14.300 H9.0 M4.9,-20.200 V0"/><path transform="translate(68.70,0)" d="M1.925,-7.150 A7.250,6.950 0 1 0 16.425,-7.150 A7.250,6.950 0 1 0 1.925,-7.150 M16.425,-14.300 V0"/><path transform="translate(87.65,0)" d="M2.525,-14.300 V2.6 C2.525,4.6 1.025,5.5 -1.075,5.5"/><circle cx="90.18" cy="-18.6" r="1.35" fill="#1a1a1a" stroke="none"/><path transform="translate(92.70,0)" d="M1.925,-7.150 H16.425 A7.250,6.950 0 1 0 14.729,-2.683"/></g>
<path d="M1.0,-16.9 C1.4,-19.2 3.6,-20.3 6.3,-20.3 C9.6,-20.3 11.4,-18.2 11.4,-15.7 C11.4,-13 9.1,-11 6.0,-11 C9.9,-11 12.9,-8.8 12.9,-5.6 C12.9,-2.2 10.2,-0.7 6.6,-0.7 C3.6,-0.7 1.3,-2.4 0.7,-4.9" transform="translate(580.60,697.00) scale(0.6618,0.5238)" fill="none" stroke="#1a1a1a" stroke-width="2.193" stroke-miterlimit="3"/>
<path d="M0.7,0 L9.6,-21" transform="translate(591.60,707.30) scale(0.8058,1.0476)" fill="none" stroke="#1a1a1a" stroke-width="1.673" stroke-miterlimit="3"/>
<path d="M0.700,-5.700 A6.150,5.000 0 1 0 13.000,-5.700 A6.150,5.000 0 1 0 0.700,-5.700 M2.250,-16.200 A4.600,4.100 0 1 0 11.450,-16.200 A4.600,4.100 0 1 0 2.250,-16.200" transform="translate(602.60,705.20) scale(0.6569,0.6238)" fill="none" stroke="#1a1a1a" stroke-width="2.030" stroke-miterlimit="3"/>
<path transform="translate(617.2,686.2)" d="M-1.2,0 A1.2,1.2 0 1 1 1.2,0.1 C1.15,2.4 0.3,4.6 -1.0,6.0 C-0.55,4.5 -0.35,3.0 -0.6,1.0 A1.2,1.2 0 0 1 -1.2,0 Z" fill="#1a1a1a"/>
<path transform="translate(627.3,686.2)" d="M-1.2,0 A1.2,1.2 0 1 1 1.2,0.1 C1.15,2.4 0.3,4.6 -1.0,6.0 C-0.55,4.5 -0.35,3.0 -0.6,1.0 A1.2,1.2 0 0 1 -1.2,0 Z" fill="#1a1a1a"/>
<g transform="translate(81.70,713.30) scale(1.0079,0.9585)" fill="none" stroke="#1a1a1a" stroke-width="1.6" stroke-miterlimit="3"><path transform="translate(0.00,0)" d="M9.8,-17.2 C9.0,-18.6 7.6,-19.6 5.7,-19.6 C3.2,-19.6 1.4,-17.8 1.4,-15.2 C1.4,-9.8 10.6,-11 10.6,-4.8 C10.6,-1.6 8.4,0.3 5.5,0.3 C3.3,0.3 1.6,-1 0.8,-2.9"/><path transform="translate(12.30,0)" d="M1.925,-7.150 H16.425 A7.250,6.950 0 1 0 14.729,-2.683"/><path transform="translate(30.65,0)" d="M15.114,-11.136 A7.250,6.950 0 1 0 15.114,-3.164"/><path transform="translate(48.99,0)" d="M15.114,-11.136 A7.250,6.950 0 1 0 15.114,-3.164"/><path transform="translate(67.33,0)" d="M2.525,0 V-14.300"/><circle cx="69.85" cy="-18.6" r="1.35" fill="#1a1a1a" stroke="none"/><path transform="translate(72.38,0)" d="M1.925,-7.150 A7.250,6.950 0 1 0 16.425,-7.150 A7.250,6.950 0 1 0 1.925,-7.150 M9.78,-16.6 L12.58,-20.6"/><path transform="translate(90.73,0)" d="M2.525,0 V-14.300 M2.525,-8.800 A5.5,5.5 0 0 1 13.525,-8.800 V0"/><path transform="translate(115.08,0)" d="M0.3,-19.3 H11.0 M5.65,-19.3 V0"/><path transform="translate(126.38,0)" d="M2.525,0 V-14.300 M2.525,-8.3 C2.525,-12 4.925,-13.6 8.125,-13.6"/><path transform="translate(135.73,0)" d="M1.925,-7.150 A7.250,6.950 0 1 0 16.425,-7.150 A7.250,6.950 0 1 0 1.925,-7.150 M16.425,-14.300 V0"/><path transform="translate(154.68,0)" d="M2.525,0 V-14.300 M2.525,-8.800 A5.5,5.5 0 0 1 13.525,-8.800 V0"/><path transform="translate(170.73,0)" d="M7.6,-12.6 C7.0,-13.9 6.0,-14.5 4.7,-14.5 C2.8,-14.5 1.6,-13.3 1.6,-11.5 C1.6,-7.8 8.2,-8.8 8.2,-4.0 C8.2,-1.4 6.5,0.2 4.5,0.2 C2.8,0.2 1.4,-0.8 0.9,-2.3"/><path transform="translate(180.43,0)" d="M0.9,-14.300 L6.9,0 L12.9,-14.300"/><path transform="translate(194.63,0)" d="M1.925,-7.150 H16.425 A7.250,6.950 0 1 0 14.729,-2.683"/><path transform="translate(212.98,0)" d="M2.525,0 V-14.300 M2.525,-8.3 C2.525,-12 4.925,-13.6 8.125,-13.6"/><path transform="translate(222.33,0)" d="M7.6,-12.6 C7.0,-13.9 6.0,-14.5 4.7,-14.5 C2.8,-14.5 1.6,-13.3 1.6,-11.5 C1.6,-7.8 8.2,-8.8 8.2,-4.0 C8.2,-1.4 6.5,0.2 4.5,0.2 C2.8,0.2 1.4,-0.8 0.9,-2.3"/><path transform="translate(232.03,0)" d="M1.925,-7.150 A7.250,6.950 0 1 0 16.425,-7.150 A7.250,6.950 0 1 0 1.925,-7.150 M16.425,-14.300 V0"/><path transform="translate(250.98,0)" d="M2.725,0 V-20.200"/><path transform="translate(264.73,0)" d="M1.925,-7.150 A7.250,6.950 0 1 0 16.425,-7.150 A7.250,6.950 0 1 0 1.925,-7.150 M16.425,-20.200 V0"/><path transform="translate(283.68,0)" d="M1.925,-7.150 H16.425 A7.250,6.950 0 1 0 14.729,-2.683"/></g>
<g transform="translate(75.05,734.50) scale(0.9933,0.9430)" fill="none" stroke="#1a1a1a" stroke-width="1.6" stroke-miterlimit="3"><path transform="translate(0.00,0)" d="M0.9,0 L9.3,-19.3 L17.7,0 M4.5,-7.7 H14.1"/><path transform="translate(19.20,0)" d="M15.114,-11.136 A7.250,6.950 0 1 0 15.114,-3.164"/><path transform="translate(37.54,0)" d="M1.925,-7.150 A7.250,6.950 0 1 0 16.425,-7.150 A7.250,6.950 0 1 0 1.925,-7.150"/><path transform="translate(55.89,0)" d="M2.525,-7.150 A7.250,6.950 0 1 0 17.025,-7.150 A7.250,6.950 0 1 0 2.525,-7.150 M2.525,-14.300 V5.5"/><path transform="translate(74.84,0)" d="M2.725,0 V-20.200"/><path transform="translate(80.29,0)" d="M1.925,-7.150 A7.250,6.950 0 1 0 16.425,-7.150 A7.250,6.950 0 1 0 1.925,-7.150 M16.425,-14.300 V0"/><path transform="translate(99.24,0)" d="M2.525,0 V-14.300 M2.525,-8.950 A5.35,5.35 0 0 1 13.225,-8.950 V0 M13.225,-8.950 A5.35,5.35 0 0 1 23.925,-8.950 V0"/><path transform="translate(125.69,0)" d="M2.525,0 V-14.300"/><circle cx="128.21" cy="-18.6" r="1.35" fill="#1a1a1a" stroke="none"/><path transform="translate(130.74,0)" d="M1.925,-7.150 H16.425 A7.250,6.950 0 1 0 14.729,-2.683"/><path transform="translate(149.09,0)" d="M2.525,0 V-14.300 M2.525,-8.800 A5.5,5.5 0 0 1 13.525,-8.800 V0"/><path transform="translate(165.14,0)" d="M1.4,-14.300 H9.0 M4.9,-20.200 V0"/><path transform="translate(175.34,0)" d="M1.925,-7.150 A7.250,6.950 0 1 0 16.425,-7.150 A7.250,6.950 0 1 0 1.925,-7.150"/><path transform="translate(201.99,0)" d="M19.707,-15.257 A9.775,9.775 0 1 0 21.475,-9.650 H11.700"/><path transform="translate(225.39,0)" d="M2.525,0 V-14.300"/><circle cx="227.91" cy="-18.6" r="1.35" fill="#1a1a1a" stroke="none"/><path transform="translate(230.44,0)" d="M2.525,0 V-14.300 M2.525,-8.3 C2.525,-12 4.925,-13.6 8.125,-13.6"/><path transform="translate(239.79,0)" d="M1.925,-7.150 A7.250,6.950 0 1 0 16.425,-7.150 A7.250,6.950 0 1 0 1.925,-7.150 M16.425,-14.300 V0"/><path transform="translate(258.74,0)" d="M1.4,-14.300 H9.0 M4.9,-20.200 V0"/><path transform="translate(268.94,0)" d="M1.925,-7.150 A7.250,6.950 0 1 0 16.425,-7.150 A7.250,6.950 0 1 0 1.925,-7.150"/><path transform="translate(287.29,0)" d="M2.525,0 V-14.300 M2.525,-8.3 C2.525,-12 4.925,-13.6 8.125,-13.6"/><path transform="translate(296.64,0)" d="M2.525,0 V-14.300"/><circle cx="299.16" cy="-18.6" r="1.35" fill="#1a1a1a" stroke="none"/><path transform="translate(301.69,0)" d="M1.925,-7.150 A7.250,6.950 0 1 0 16.425,-7.150 A7.250,6.950 0 1 0 1.925,-7.150"/></g>
<path d="M146,622 L167.9,675.5 C176,672 183,665.9 191.25,665.9 C200,665.9 208,672.75 216,672.75 C224,672.75 230,667.25 238,667.25 C246,667.3 250,676.9 257.25,676.9 C265,676.9 271,670 279.25,670 C290,670 300,678.25 312.25,678.25 C320,678.3 325,672.75 331.5,672.75 C340,672.75 347,676 355,678.25 C345,662 330,645 306.75,635.6 L290,630 Z" fill="#e5e5e5" stroke="#1a1a1a" stroke-width="1.3" stroke-linejoin="round"/>
<path d="M120,597.6 H320 V645.25 H155.25 L146,622 L120,618 Z" fill="#e5e5e5" stroke="#1a1a1a" stroke-width="1.3" stroke-linejoin="round"/>
<path d="M79,574.6 H112.6 C115.5,574.6 117.5,578.6 122.3,578.6 C131.5,578.6 131,570 140.7,570 C150.5,570 150,578.6 159.9,578.6 C169.5,578.6 169,570 178.3,570 C181.5,570 183.5,571.2 185.5,572.6 L198,585 H267.3 L283.9,571.6 C286,570.2 288.3,569.9 290.9,569.9 C300.5,569.9 300,578.6 309.3,578.6 C318.8,578.6 318.3,569.9 327.7,569.9 C337.2,569.9 338,578.6 347.8,578.6 C352,578.6 353.5,574.6 356.6,574.6 H386.5 V590.2 H307.5 C302,590.2 297.5,587.4 292.65,587.4 C285,587.4 280,594 274.6,603.25 H194 C189,597 183,587.2 175,587.2 C170.5,587.2 168.5,592.5 165,592.8 L130,590.2 H79 Z" fill="#e5e5e5" stroke="#1a1a1a" stroke-width="1.3" stroke-linejoin="round"/>
<path d="M164.5,598.1 H180.4 V616 C175,622 168,626.5 158,628.2 C148,629.6 135,629 128,625 C126,623 127,620 130,617 L142,611 C148,609 153,607 155,604 C157,600.5 160,598.2 164.5,598.1 Z" fill="#808080" stroke="#1a1a1a" stroke-width="1.3" stroke-linejoin="round"/>
<line x1="120.3" y1="618.6" x2="136" y2="610.2" stroke="#1a1a1a" stroke-width="9.2" stroke-linecap="round"/>
<line x1="120.3" y1="618.6" x2="136" y2="610.2" stroke="#808080" stroke-width="6.6" stroke-linecap="round"/>
<path d="M288.75,598.1 H313 A11.9,11.9 0 1 0 334.5,598.1 H347.5 V605 C347.5,618 338,628.1 323.75,628.1 C312,628.1 306,623 301,617 L288.75,615 Z" fill="#808080" stroke="#1a1a1a" stroke-width="1.3" stroke-linejoin="round"/>
<path d="M160,629.5 L166,629.5 C170.5,634 178.5,634 184.5,628 C190.5,622 194,612 194,603.25 L211.5,603.25 L211.5,614 L205.5,614 L205.5,626 C203.5,638 195,646.5 183,646.5 L160,646.5 Z" fill="#808080" stroke="#1a1a1a" stroke-width="1.3" stroke-linejoin="round"/>
<path d="M160,629.5 L166,629.5 C170.5,634 178.5,634 184.5,628 C190.5,622 194,612 194,603.25 L211.5,603.25 L211.5,614 L205.5,614 L205.5,626 C203.5,638 195,646.5 183,646.5 L160,646.5 Z" transform="translate(466.6,0) scale(-1,1)" fill="#808080" stroke="#1a1a1a" stroke-width="1.3" stroke-linejoin="round"/>
<rect x="211.5" y="585" width="45.4" height="28.1" fill="#808080" stroke="#1a1a1a" stroke-width="1.3" stroke-linejoin="round"/>
<rect x="205.25" y="574.4" width="56.65" height="10.6" fill="#808080" stroke="#1a1a1a" stroke-width="1.3" stroke-linejoin="round"/>
<rect x="205.25" y="614" width="56.65" height="12.9" fill="#808080" stroke="#1a1a1a" stroke-width="1.3" stroke-linejoin="round"/>
<circle cx="142" cy="602.7" r="11.7" fill="#e5e5e5" stroke="#1a1a1a" stroke-width="1.3" stroke-linejoin="round"/>
<circle cx="172.9" cy="623" r="8.9" fill="#e5e5e5" stroke="#1a1a1a" stroke-width="1.3" stroke-linejoin="round"/>
<circle cx="294.4" cy="623.1" r="9.4" fill="#e5e5e5" stroke="#1a1a1a" stroke-width="1.3" stroke-linejoin="round"/>
<circle cx="323.75" cy="603.1" r="11.9" fill="#e5e5e5" stroke="#1a1a1a" stroke-width="1.3" stroke-linejoin="round"/>
</svg></div></body></html>
